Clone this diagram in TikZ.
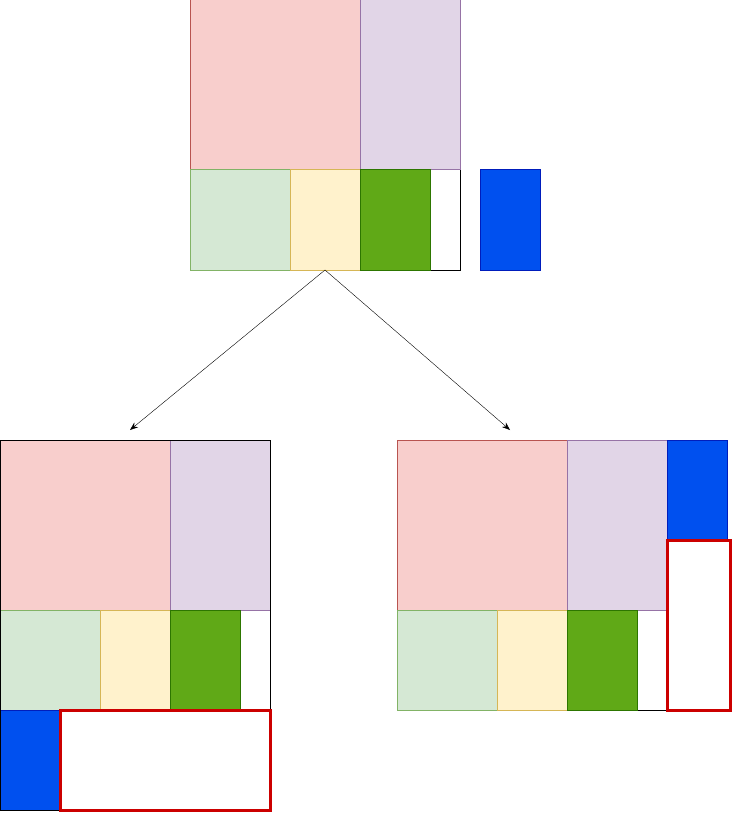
\documentclass[tikz,border=0pt]{standalone}
\usetikzlibrary{arrows.meta}
\definecolor{pinkfill}{HTML}{F8CECC}
\definecolor{pinkline}{HTML}{B85450}
\definecolor{lilacfill}{HTML}{E1D5E7}
\definecolor{lilacline}{HTML}{9673A6}
\definecolor{mintfill}{HTML}{D5E8D4}
\definecolor{mintline}{HTML}{82B366}
\definecolor{creamfill}{HTML}{FFF2CC}
\definecolor{creamline}{HTML}{D6B656}
\definecolor{grassfill}{HTML}{60A917}
\definecolor{grassline}{HTML}{2D7600}
\definecolor{bluefill}{HTML}{0050EF}
\definecolor{blueline}{HTML}{001DBC}
\definecolor{freeline}{HTML}{CC0000}
\tikzset{
  piece/.style = {line width = 1pt},
  pinkpiece/.style = {piece, fill = pinkfill, draw = pinkline},
  lilacpiece/.style = {piece, fill = lilacfill, draw = lilacline},
  mintpiece/.style = {piece, fill = mintfill, draw = mintline},
  creampiece/.style = {piece, fill = creamfill, draw = creamline},
  grasspiece/.style = {piece, fill = grassfill, draw = grassline},
  bluepiece/.style = {piece, fill = bluefill, draw = blueline},
  freespace/.style = {line width = 3pt, fill = white, draw = freeline},
  sheet/.style = {draw = black, line width = 1pt, inner sep = 0pt, outer sep = 0pt, minimum width = 270pt}
}

\begin{document}
\begin{tikzpicture}[x = 1pt, y = -1pt]
\useasboundingbox (0, 0) rectangle (733, 813);
% top sheet and the piece still to place
\node[sheet, minimum height = 270pt] (topsheet) at (325, 135) {};
\draw[pinkpiece] (190, 0) rectangle (360, 170);
\draw[lilacpiece] (360, 0) rectangle (460, 170);
\draw[mintpiece] (190, 170) rectangle (290, 270);
\draw[creampiece] (290, 170) rectangle (360, 270);
\draw[grasspiece] (360, 170) rectangle (430, 270);
\draw[bluepiece] (480, 170) rectangle (540, 270);
% the two choices
\coordinate (leftend) at (130, 430);
\coordinate (rightend) at (510, 430);
\draw[-{Stealth[length = 8pt, width = 6pt]}] (topsheet.south) -- (leftend);
\draw[-{Stealth[length = 8pt, width = 6pt]}] (topsheet.south) -- (rightend);
% left sheet: piece below
\draw[pinkpiece] (0, 440) rectangle (170, 610);
\draw[lilacpiece] (170, 440) rectangle (270, 610);
\draw[mintpiece] (0, 610) rectangle (100, 710);
\draw[creampiece] (100, 610) rectangle (170, 710);
\draw[grasspiece] (170, 610) rectangle (240, 710);
\draw[bluepiece] (0, 710) rectangle (60, 810);
\node[sheet, minimum height = 370pt] (leftsheet) at (135, 625) {};
\draw[freespace] (60, 710) rectangle (270, 810);
% right sheet: piece beside
\node[sheet, minimum height = 270pt] (rightsheet) at (532, 575) {};
\draw[pinkpiece] (397, 440) rectangle (567, 610);
\draw[lilacpiece] (567, 440) rectangle (667, 610);
\draw[mintpiece] (397, 610) rectangle (497, 710);
\draw[creampiece] (497, 610) rectangle (567, 710);
\draw[grasspiece] (567, 610) rectangle (637, 710);
\draw[bluepiece] (667, 440) rectangle (727, 540);
\draw[freespace] (667, 540) rectangle (730, 710);
\end{tikzpicture}
\end{document}
